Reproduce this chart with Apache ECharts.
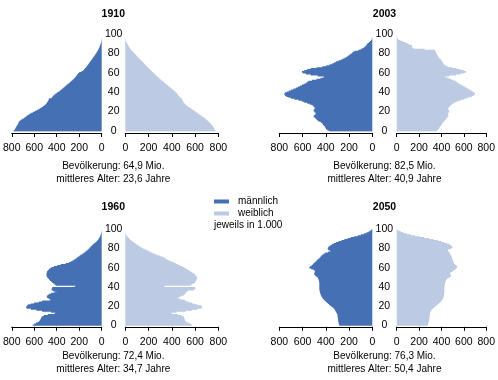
<!DOCTYPE html>
<html><head><meta charset="utf-8">
<script src="https://cdn.jsdelivr.net/npm/echarts@6/dist/echarts.min.js"></script>
<style>html,body{margin:0;padding:0;background:#fff}#c{width:498px;height:380px}</style>
</head><body><div id="c"></div>
<script>
const ages = Array.from({length: 101}, (_, i) => String(i));
const ageTicks = [0, 20, 40, 60, 80, 100];
const years = ['1910', '2003', '1960', '2050'];
const popText = ['Bevölkerung: 64,9 Mio.', 'Bevölkerung: 82,5 Mio.', 'Bevölkerung: 72,4 Mio.', 'Bevölkerung: 76,3 Mio.'];
const ageText = ['mittleres Alter: 23,6 Jahre', 'mittleres Alter: 40,9 Jahre', 'mittleres Alter: 34,7 Jahre', 'mittleres Alter: 50,4 Jahre'];
const unitText = 'jeweils in 1.000';

const m1910 = [785,775,770,765,760,755,750,745,740,738,
730,720,705,690,680,670,660,645,630,612,
595,578,562,548,535,522,510,500,492,486,
480,476,472,468,445,438,430,420,410,398,
386,375,364,353,342,332,322,312,302,292,
282,272,262,252,244,236,228,222,216,210,
200,180,165,156,150,143,136,129,122,116,
110,104,97,91,85,79,73,66,60,54,
48,43,38,34,29,25,21,17,14,11,
8,6,4,3,2,1,0,0,0,0,
0];
const f1910 = [775,770,765,760,755,750,745,738,730,722,
713,703,693,683,672,660,648,636,624,612,
600,588,576,564,552,540,528,518,510,503,
498,494,490,487,475,466,458,452,446,440,
432,422,412,402,392,382,372,362,352,342,
332,322,312,302,293,284,275,266,258,248,
238,229,220,212,204,196,188,180,172,164,
156,148,140,132,124,116,108,100,92,84,
76,68,60,53,46,40,34,29,24,19,
15,11,8,5,3,2,1,0,0,0,
0];
const m2003 = [370,385,395,400,405,410,418,425,430,440,
455,468,478,485,495,505,500,490,482,488,
498,505,500,490,495,502,508,520,538,560,
585,605,635,670,700,722,740,750,757,752,
735,718,698,678,658,640,622,605,590,575,
562,550,520,480,445,420,410,470,530,570,
595,605,585,560,530,480,430,395,368,345,
328,312,290,270,255,238,222,210,198,186,
175,165,152,120,100,85,70,60,52,46,
40,30,20,12,6,3,1,0,0,0,
0];
const f2003 = [355,365,372,378,383,390,396,402,408,413,
422,430,436,442,450,458,462,458,455,462,
470,468,460,455,462,470,478,485,495,508,
525,545,572,600,625,650,672,688,698,695,
685,672,658,642,627,612,595,578,565,552,
540,528,508,485,465,440,425,470,530,570,
600,620,600,568,535,495,458,440,428,418,
412,408,402,397,390,380,372,368,362,358,
354,350,345,340,250,150,130,138,135,110,
95,75,55,35,15,8,4,2,0,0,
0];
const m1960 = [614,600,585,570,557,550,545,540,535,528,
515,480,420,410,450,530,580,630,668,672,
665,655,630,600,560,530,460,450,470,485,
488,482,470,450,420,400,430,445,445,440,
240,230,410,420,430,440,450,460,468,475,
482,488,491,491,490,488,485,478,468,458,
445,425,395,365,320,290,275,260,245,232,
220,208,196,185,172,160,148,137,126,118,
110,102,94,85,76,66,56,46,38,31,
25,20,16,12,9,6,4,2,1,0,
0];
const f1960 = [574,565,548,530,518,515,512,508,504,500,
485,455,400,395,440,520,574,620,655,662,
650,620,595,574,545,520,510,470,445,455,
471,490,505,515,520,525,540,590,603,600,
330,340,560,575,590,600,605,610,615,618,
615,610,603,595,585,572,559,545,530,518,
505,488,470,452,435,418,400,380,362,348,
338,318,296,275,255,235,218,200,183,165,
150,136,122,108,96,85,74,62,52,42,
34,26,18,12,6,3,1,0,0,0,
0];
const m2050 = [284,286,288,290,292,294,295,296,297,298,
298,300,302,306,311,316,321,326,333,342,
352,362,372,382,392,400,408,416,424,430,
436,440,443,446,449,451,453,455,456,456,
456,456,456,456,456,456,458,460,463,466,
470,480,490,498,500,495,492,495,505,525,
542,535,522,513,505,496,488,480,472,462,
452,445,438,430,420,405,380,355,365,380,
384,380,370,358,345,330,312,290,265,240,
212,185,155,125,98,72,50,32,18,10,
3];
const f2050 = [278,280,282,284,286,288,290,292,293,294,
295,296,297,298,300,304,310,318,326,336,
346,356,366,376,386,394,401,407,412,416,
419,421,423,424,425,426,426,426,426,426,
427,428,429,430,432,434,436,440,446,455,
468,480,485,478,474,480,492,505,518,528,
535,540,535,522,512,508,505,502,500,497,
494,490,486,482,478,474,468,460,455,460,
485,498,495,485,470,450,425,398,368,330,
290,245,205,165,125,92,62,38,18,6,
0];

const maleSeries = [m1910, m2003, m1960, m2050];
const femaleSeries = [f1910, f2003, f1960, f2050];

const MALE = '#4670b4';
const FEMALE = '#bdcae3';
const FONT = 'Liberation Sans, Arial, sans-serif';

// layout of each panel (pixels)
const layout = [
  {mL: 8, mW: 93.7, fL: 125.3, fW: 93, top: 33.5, h: 98, cx: 113.3, titleTop: 9, popTop: 161.2, ageTop: 173.8, off: 1.5},
  {mL: 279.3, mW: 93, fL: 396.7, fW: 92.6, top: 33.5, h: 98, cx: 384.5, titleTop: 9, popTop: 161.2, ageTop: 173.8, off: 1.5},
  {mL: 8, mW: 93.7, fL: 125.3, fW: 93, top: 228.8, h: 97, cx: 113.3, titleTop: 201.5, popTop: 351.2, ageTop: 364.5, off: 1},
  {mL: 279.3, mW: 93, fL: 396.7, fW: 92.6, top: 228.8, h: 97, cx: 384.5, titleTop: 201.5, popTop: 351.2, ageTop: 364.5, off: 1}
];

const grid = [], xAxis = [], yAxis = [], series = [], title = [];
layout.forEach((L, p) => {
  const gm = grid.length;
  grid.push({left: L.mL, top: L.top, width: L.mW, height: L.h});
  grid.push({left: L.fL, top: L.top, width: L.fW, height: L.h});
  [0, 1].forEach(side => {
    xAxis.push({
      type: 'value', gridIndex: gm + side, min: 0, max: 800, interval: 200,
      inverse: side === 0, offset: L.off,
      axisLine: {show: true, lineStyle: {color: '#000', width: 1}},
      axisTick: {show: true, length: 4, lineStyle: {color: '#000'}},
      splitLine: {show: false},
      axisLabel: {fontSize: 10.5, color: '#000', margin: 9.5, fontFamily: FONT}
    });
    yAxis.push({
      type: 'category', gridIndex: gm + side, data: ages,
      position: side === 0 ? 'right' : 'left',
      axisLine: {show: false}, axisTick: {show: false}, splitLine: {show: false},
      axisLabel: {
        show: side === 0, fontSize: 10.5, color: '#000', fontFamily: FONT,
        align: 'center', margin: 12,
        interval: (idx) => ageTicks.includes(idx)
      }
    });
  });
  series.push({
    type: 'bar', name: 'männlich', xAxisIndex: gm, yAxisIndex: gm,
    data: maleSeries[p], barWidth: 1.6, itemStyle: {color: MALE},
    large: true, largeThreshold: 10, silent: true, animation: false
  });
  series.push({
    type: 'bar', name: 'weiblich', xAxisIndex: gm + 1, yAxisIndex: gm + 1,
    data: femaleSeries[p], barWidth: 1.6, itemStyle: {color: FEMALE},
    large: true, largeThreshold: 10, silent: true, animation: false
  });
  title.push({text: years[p], left: L.cx, top: L.titleTop, textAlign: 'center', padding: 0,
    textStyle: {fontSize: 10.5, fontWeight: 'bold', color: '#000', fontFamily: FONT}});
  title.push({text: popText[p], left: L.cx, top: L.popTop, textAlign: 'center', padding: 0,
    textStyle: {fontSize: 10, fontWeight: 'normal', color: '#000', fontFamily: FONT}});
  title.push({text: ageText[p], left: L.cx, top: L.ageTop, textAlign: 'center', padding: 0,
    textStyle: {fontSize: 10, fontWeight: 'normal', color: '#000', fontFamily: FONT}});
});
title.push({text: unitText, left: 214, top: 220, padding: 0,
  textStyle: {fontSize: 10, fontWeight: 'normal', color: '#000', fontFamily: FONT}});

const chart = echarts.init(document.getElementById('c'), null, {renderer: 'canvas'});
chart.setOption({
  animation: false,
  textStyle: {fontFamily: FONT},
  title, grid, xAxis, yAxis, series,
  legend: {
    data: ['männlich', 'weiblich'], orient: 'vertical', left: 214, top: 196.5,
    itemWidth: 15, itemHeight: 4, itemGap: 2, icon: 'rect', padding: 0,
    textStyle: {fontSize: 10, color: '#000', fontFamily: FONT, padding: [0, 0, 0, 4]},
    selectedMode: false
  }
});
</script>
</body></html>
